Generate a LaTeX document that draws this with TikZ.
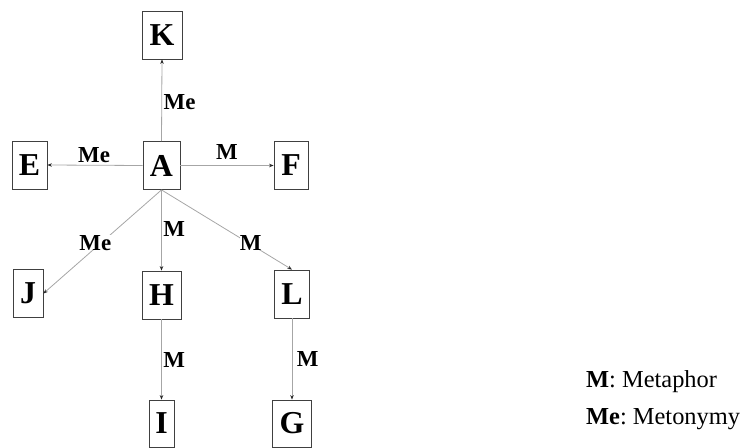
\documentclass[tikz,border=0pt]{standalone}
\usepackage{fontspec}
\setmainfont{Liberation Serif}
\usetikzlibrary{arrows.meta}
\frenchspacing
\tikzset{
  box/.style={draw=black!75, line width=0.8bp, minimum height=48bp, inner sep=0pt,
    font=\fontsize{32}{36}\selectfont\bfseries},
  link/.style={draw=black!35, line width=0.8bp,
    -{Stealth[length=4.5bp,width=3.5bp,color=black!85]}},
  lab/.style={font=\fontsize{23}{26}\selectfont\bfseries, inner sep=1.5bp},
  legend/.style={font=\fontsize{24.5}{28}\selectfont, anchor=base west, inner sep=0pt}
}
\begin{document}
\begin{tikzpicture}[x=1bp,y=-1bp]
\useasboundingbox (0,0) rectangle (746,448);
\node[box, minimum width=40bp] (K) at (162,35) {K};
\node[box, minimum width=37bp] (A) at (161.5,165.5) {A};
\node[box, minimum width=35bp] (E) at (29.5,165) {E};
\node[box, minimum width=34bp] (F) at (291,165.5) {F};
\node[box, minimum width=30bp] (J) at (28,293.5) {J};
\node[box, minimum width=39bp] (H) at (161.5,295) {H};
\node[box, minimum width=35bp] (L) at (292,294) {L};
\node[box, minimum width=25bp, minimum height=47bp] (I) at (161.5,423.5) {I};
\node[box, minimum width=39bp, minimum height=47bp] (G) at (292,423.5) {G};

\draw[link] (A.north) -- node[lab, pos=0.48, right] {Me} (K.south);
\draw[link] (A.west) -- node[lab, pos=0.51, above=1bp] {Me} (E.east);
\draw[link] (A.east) -- node[lab, pos=0.5, above=4bp] {M} (F.west);
\draw[link] (A.south) -- node[lab, pos=0.51, xshift=-6bp, fill=white, inner sep=0pt] {Me} (J.east);
\draw[link] (A.south) -- node[lab, pos=0.49, right] {M} (H.north);
\draw[link] (A.south) -- node[lab, pos=0.66, xshift=3bp, fill=white, inner sep=0pt] {M} (L.north);
\draw[link] (H.south) -- node[lab, pos=0.5, right] {M} (I.north);
\draw[link] (L.south) -- node[lab, pos=0.5, right=3bp] {M} (G.north);

\node[legend] (l1) at (586,387) {\textbf{M}: Metaphor};
\node[legend] (l2) at (586,424) {\textbf{Me}: Metonymy};
\end{tikzpicture}
\end{document}
